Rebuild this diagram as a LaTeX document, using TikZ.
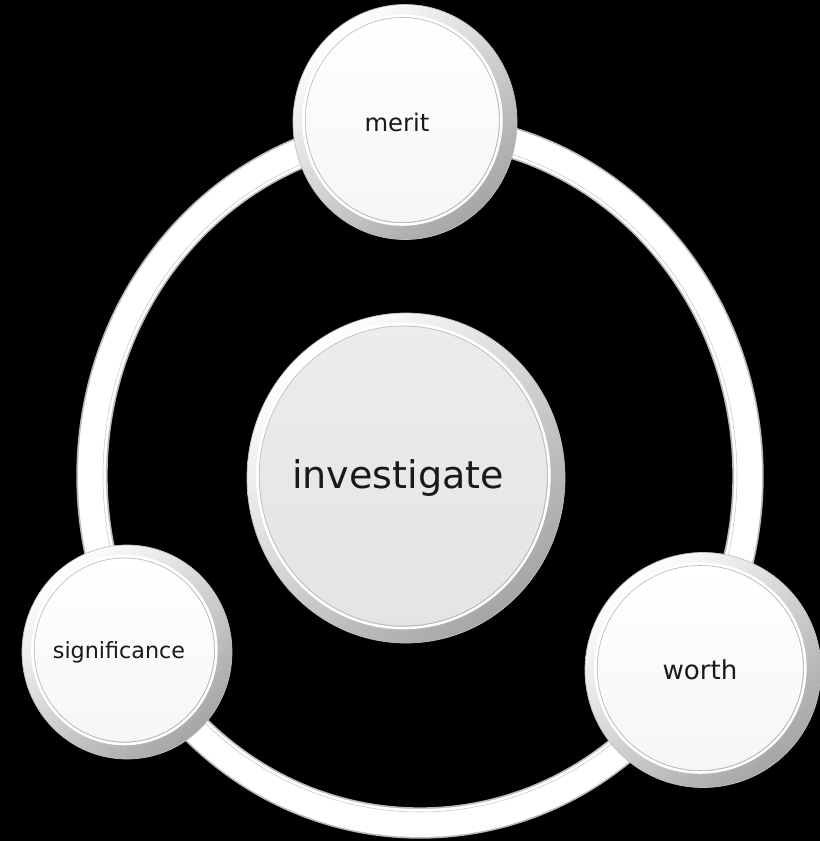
\documentclass[tikz,border=0pt]{standalone}
\usepackage{fontspec}
\setmainfont{DejaVu Sans}
\usetikzlibrary{shapes.geometric}

\colorlet{facegray}{gray!15}
\colorlet{facewhite}{white}

\tikzset{
  bubble/.style n args={3}{ellipse, minimum width=#1, minimum height=#2, inner sep=0pt,
    draw=gray!50, line width=0.6pt,
    path picture={
      \shade[top color=white, bottom color=gray!70, shading angle=40]
        (path picture bounding box.south west) rectangle (path picture bounding box.north east);
      \draw[white, line width=2.2pt] ([xshift=-0.8mm,yshift=0.6mm]path picture bounding box.center)
        ellipse [x radius=#1/2-3.9mm, y radius=#2/2-3.9mm];
      \shade[top color=#3, bottom color=#3!93!gray, draw=gray!55, line width=0.5pt]
        ([xshift=-0.8mm,yshift=0.6mm]path picture bounding box.center)
        ellipse [x radius=#1/2-4.5mm, y radius=#2/2-4.5mm];
    }},
  every label/.style={text=black!90, xshift=-2.4mm},
  ringline/.style={line width=#1},
}

\begin{document}
\begin{tikzpicture}[x=0.3mm,y=-0.3mm]
  \fill[black] (0,0) rectangle (820,841);
  \useasboundingbox (0,0) rectangle (820,841);
  \clip (0,0) rectangle (820,841);

  % the cycle ring
  \draw[gray!55, ringline=9.4mm] (420,476) ellipse [x radius=328, y radius=347];
  \draw[white, ringline=8.4mm] (420,476) ellipse [x radius=328, y radius=347];
  \draw[gray!40, ringline=0.5pt] (420,476) ellipse [x radius=317, y radius=336];

  \node[bubble={95.4mm}{99mm}{facegray},
    label={[font=\fontsize{32.5}{36}\selectfont]center:investigate}] (investigate) at (406,478) {};
  \node[bubble={67.2mm}{70.5mm}{facewhite},
    label={[font=\fontsize{20.7}{24}\selectfont]center:merit}] (merit) at (405,122) {};
  \node[bubble={63mm}{64.2mm}{facewhite},
    label={[font=\fontsize{19}{22}\selectfont]center:significance}] (significance) at (127,652) {};
  \node[bubble={70.8mm}{70.5mm}{facewhite},
    label={[font=\fontsize{22.3}{26}\selectfont, xshift=1.5mm]center:worth}] (worth) at (703,670) {};
\end{tikzpicture}
\end{document}
